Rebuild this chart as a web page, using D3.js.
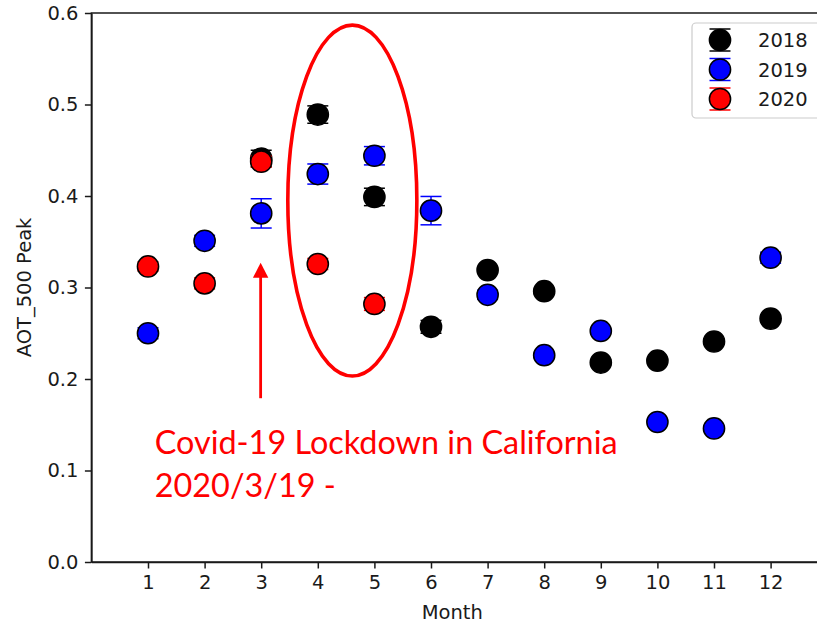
<!DOCTYPE html>
<html>
<head>
<meta charset="utf-8">
<script src="https://cdn.jsdelivr.net/npm/d3@7/dist/d3.min.js"></script>
<style>
  html, body { margin: 0; padding: 0; background: #fff; }
  svg { display: block; }
</style>
</head>
<body>
<svg id="chart" width="817" height="624"></svg>
<script>
// ---- data ----
const months = [1,2,3,4,5,6,7,8,9,10,11,12];
const yTicks = [0.0,0.1,0.2,0.3,0.4,0.5,0.6];

const months2018 = [3,4,5,6,7,8,9,10,11,12];
const aot2018    = [0.441,0.489,0.399,0.257,0.319,0.296,0.218,0.220,0.241,0.266];
const err2018    = [0.009,0.0095,0.0095,0.007,0.003,0.003,0.003,0.003,0.003,0.004];

const months2019 = [1,2,3,4,5,6,7,8,9,10,11,12];
const aot2019    = [0.250,0.351,0.381,0.424,0.444,0.384,0.292,0.226,0.2525,0.153,0.146,0.3326];
const err2019    = [0.006,0.006,0.016,0.011,0.010,0.0155,0.005,0.003,0.003,0.003,0.003,0.006];

const months2020 = [1,2,3,4,5];
const aot2020    = [0.323,0.3045,0.4375,0.3257,0.282];
const err2020    = [0.005,0.006,0.006,0.006,0.007];

const seriesNames  = ["2018","2019","2020"];
const seriesColors = ["#000000","#0000ff","#ff0000"];

// ---- setup ----
const svg = d3.select("#chart");
const FONT = "'DejaVu Sans', sans-serif";
const FS = 19.5;

const x = d3.scaleLinear().domain([0,13]).range([91.4, 827.2]);
const y = d3.scaleLinear().domain([0,0.6]).range([562, 13]);

// spines (top / right) box
svg.append("rect")
  .attr("x", x(0)).attr("y", y(0.6))
  .attr("width", x(13)-x(0)).attr("height", y(0)-y(0.6))
  .attr("fill","none").attr("stroke","#1a1a1a").attr("stroke-width",1.5);

// axes
const xAxis = d3.axisBottom(x).tickValues(months).tickFormat(d3.format("d"))
  .tickSize(6.5).tickPadding(6.5).tickSizeOuter(0);
const yAxis = d3.axisLeft(y).tickValues(yTicks).tickFormat(d3.format(".1f"))
  .tickSize(6.5).tickPadding(6.5).tickSizeOuter(0);

const gx = svg.append("g").attr("transform",`translate(0,${y(0)})`).call(xAxis);
const gy = svg.append("g").attr("transform",`translate(${x(0)},0)`).call(yAxis);
[gx, gy].forEach(g => {
  g.select(".domain").attr("stroke","#1a1a1a").attr("stroke-width",1.5);
  g.selectAll(".tick line").attr("stroke","#1a1a1a").attr("stroke-width",1.5);
  g.selectAll(".tick text").attr("fill","#1a1a1a").style("font-family",FONT).style("font-size",FS+"px");
});

// axis labels
svg.append("text").attr("x", (x(0)+x(13))/2 - 7).attr("y", 619)
  .attr("text-anchor","middle").style("font-family",FONT).style("font-size",FS+"px")
  .attr("fill","#1a1a1a").text("Month");
svg.append("text")
  .attr("transform",`translate(31,${(y(0)+y(0.6))/2}) rotate(-90)`)
  .attr("text-anchor","middle").style("font-family",FONT).style("font-size",FS+"px")
  .attr("fill","#1a1a1a").text("AOT_500 Peak");

// ---- series ----
const R = 10.6, CAP = 10.5;
const seriesData = [
  months2018.map((m,i)=>({m, v:aot2018[i], e:err2018[i]})),
  months2019.map((m,i)=>({m, v:aot2019[i], e:err2019[i]})),
  months2020.map((m,i)=>({m, v:aot2020[i], e:err2020[i]}))
];

seriesData.forEach((data, si) => {
  const col = seriesColors[si];
  const g = svg.append("g");
  const eb = g.append("g");
  data.forEach(d => {
    eb.append("line").attr("x1",x(d.m)).attr("x2",x(d.m))
      .attr("y1",y(d.v-d.e)).attr("y2",y(d.v+d.e)).attr("stroke",col).attr("stroke-width",1.5);
    [d.v-d.e, d.v+d.e].forEach(yy => {
      eb.append("line").attr("x1",x(d.m)-CAP).attr("x2",x(d.m)+CAP)
        .attr("y1",y(yy)).attr("y2",y(yy)).attr("stroke",col).attr("stroke-width",1.5);
    });
  });
  g.selectAll("circle").data(data).join("circle")
    .attr("cx", d=>x(d.m)).attr("cy", d=>y(d.v)).attr("r", R)
    .attr("fill", col).attr("stroke","#000").attr("stroke-width",1.5);
});

// ---- legend ----
const lg = svg.append("g");
lg.append("rect").attr("x",692).attr("y",23).attr("width",140).attr("height",95)
  .attr("rx",4).attr("fill","#fff").attr("fill-opacity",0.8)
  .attr("stroke","#cccccc").attr("stroke-width",1.2);
seriesNames.forEach((name, i) => {
  const cy = 40 + i*29.5, cx = 720;
  const col = seriesColors[i];
  [cy-11, cy+11].forEach(yy => {
    lg.append("line").attr("x1",cx-10.5).attr("x2",cx+10.5).attr("y1",yy).attr("y2",yy)
      .attr("stroke",col).attr("stroke-width",1.5);
  });
  lg.append("circle").attr("cx",cx).attr("cy",cy).attr("r",R)
    .attr("fill",col).attr("stroke","#000").attr("stroke-width",1.5);
  lg.append("text").attr("x",758).attr("y",cy).attr("dy","0.36em")
    .style("font-family",FONT).style("font-size",FS+"px").attr("fill","#1a1a1a").text(name);
});

// ---- annotations ----
const ann = svg.append("g");
// ellipse around months 4-5
const ell = {cx:4.61, cy:0.395, rx:1.14, ry:0.1918};
ann.append("ellipse")
  .attr("cx", x(ell.cx)).attr("cy", y(ell.cy))
  .attr("rx", x(ell.rx)-x(0)).attr("ry", y(0)-y(ell.ry))
  .attr("fill","none").attr("stroke","#ff0000").attr("stroke-width",3.6);

// arrow at month 3
const arrow = {m:2.99, from:0.179, to:0.327};
const ax = x(arrow.m), ay0 = y(arrow.from), ay1 = y(arrow.to);
ann.append("line").attr("x1",ax).attr("x2",ax).attr("y1",ay0).attr("y2",ay1+14)
  .attr("stroke","#ff0000").attr("stroke-width",2.8);
ann.append("path")
  .attr("d",`M${ax},${ay1} L${ax-7.7},${ay1+15} L${ax+7.7},${ay1+15} Z`)
  .attr("fill","#ff0000");

// text
const annText = ["Covid-19 Lockdown in California","2020/3/19 -"];
const tFont = "Lato, 'Open Sans', sans-serif";
const t1 = ann.append("text").attr("x",x(1.12)).attr("y",y(0.1175))
  .style("font-family",tFont).style("font-size","30px").attr("fill","#ff0000").text(annText[0]);
const w = t1.node().getComputedTextLength();
const fs = 30 * 463 / w;
t1.style("font-size", fs+"px");
ann.append("text").attr("x",x(1.12)).attr("y",y(0.0715))
  .style("font-family",tFont).style("font-size",fs+"px").attr("fill","#ff0000").text(annText[1]);
</script>
</body>
</html>
